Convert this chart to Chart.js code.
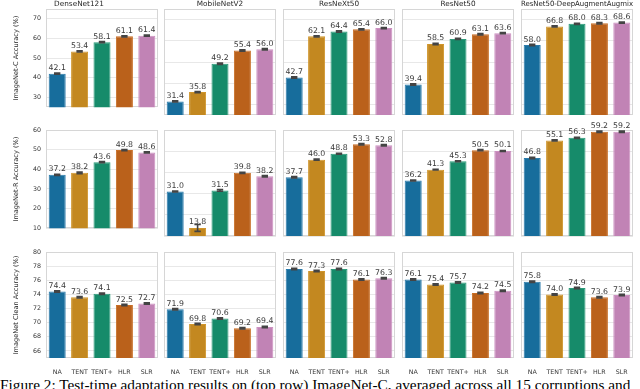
<!DOCTYPE html>
<html><head><meta charset="utf-8">
<script src="https://cdn.jsdelivr.net/npm/chart.js@4.4.0/dist/chart.umd.min.js"></script>
<style>
html,body{margin:0;padding:0;background:#fff;width:640px;height:389px;overflow:hidden;position:relative}
canvas{position:absolute}
#cap{position:absolute;left:0;top:377px;font-family:"Liberation Serif",serif;font-size:15.3px;line-height:15px;white-space:nowrap;color:#000}
</style></head><body>
<div id="cap">Figure 2: Test-time adaptation results on (top row) ImageNet-C, averaged across all 15 corruptions and</div>
<script>
// ---- data ----
const methods = ['NA', 'TENT', 'TENT+', 'HLR', 'SLR'];
const models = ['DenseNet121', 'MobileNetV2', 'ResNeXt50', 'ResNet50', 'ResNet50-DeepAugmentAugmix'];
const metricTitles = ['ImageNet-C Accuracy (%)', 'ImageNet-R Accuracy (%)', 'ImageNet Clean Accuracy (%)'];

const accImageNetC = [
  [42.1, 53.4, 58.1, 61.1, 61.4],
  [31.4, 35.8, 49.2, 55.4, 56.0],
  [42.7, 62.1, 64.4, 65.4, 66.0],
  [39.4, 58.5, 60.9, 63.1, 63.6],
  [58.0, 66.8, 68.0, 68.3, 68.6]
];
const accImageNetR = [
  [37.2, 38.2, 43.6, 49.8, 48.6],
  [31.0, 13.8, 31.5, 39.8, 38.2],
  [37.7, 46.0, 48.8, 53.3, 52.8],
  [36.2, 41.3, 45.3, 50.5, 50.1],
  [46.8, 55.1, 56.3, 59.2, 59.2]
];
const accClean = [
  [74.4, 73.6, 74.1, 72.5, 72.7],
  [71.9, 69.8, 70.6, 69.2, 69.4],
  [77.6, 77.3, 77.6, 76.1, 76.3],
  [76.1, 75.4, 75.7, 74.2, 74.5],
  [75.8, 74.0, 74.9, 73.6, 73.9]
];
const errImageNetC = [
  [0.3, 0.3, 0.3, 0.3, 0.3],
  [0.3, 0.3, 0.3, 0.3, 0.3],
  [0.3, 0.3, 0.3, 0.3, 0.3],
  [0.3, 0.3, 0.3, 0.3, 0.3],
  [0.3, 0.3, 0.3, 0.3, 0.3]
];
const errImageNetR = [
  [0.3, 0.4, 0.3, 0.3, 0.3],
  [0.2, 1.6, 0.4, 0.3, 0.3],
  [0.3, 0.3, 0.2, 0.3, 0.3],
  [0.2, 0.2, 0.2, 0.3, 0.2],
  [0.3, 0.3, 0.3, 0.3, 0.3]
];
const errClean = [
  [0.1, 0.1, 0.1, 0.1, 0.1],
  [0.1, 0.1, 0.1, 0.1, 0.1],
  [0.1, 0.1, 0.1, 0.1, 0.1],
  [0.1, 0.1, 0.1, 0.1, 0.1],
  [0.1, 0.1, 0.1, 0.1, 0.1]
];
const ticksImageNetC = [30, 40, 50, 60, 70];
const ticksImageNetR = [10, 20, 30, 40, 50, 60];
const ticksClean = [66, 68, 70, 72, 74, 76, 78, 80];
const rangeImageNetC = [25, 75];
const rangeImageNetR = [10, 60];
const rangeClean = [65, 80];

// ---- style / layout ----
const fillColors = ['#176d9c', '#c38820', '#168b6a', '#ba611b', '#c183b5'];
const edgeColors = ['#2a7bab', '#d0952a', '#2a9a78', '#c86d24', '#cc90c0'];
const colLeft = [46, 164, 283, 402, 521];
const plotW = 112;
const rowTop = [9, 130, 252];
const plotH = 106;
const FONT = "'DejaVu Sans', sans-serif";

const rows = [
  {acc: accImageNetC, err: errImageNetC, ticks: ticksImageNetC, range: rangeImageNetC},
  {acc: accImageNetR, err: errImageNetR, ticks: ticksImageNetR, range: rangeImageNetR},
  {acc: accClean, err: errClean, ticks: ticksClean, range: rangeClean}
];

const framePlugin = {
  id: 'frame',
  beforeDatasetsDraw(chart) {
    const a = chart.chartArea, ctx = chart.ctx;
    ctx.save();
    ctx.strokeStyle = '#d6d6d6';
    ctx.lineWidth = 1;
    ctx.strokeRect(Math.round(a.left) + 0.5, Math.round(a.top) + 0.5,
                   Math.round(a.right - a.left) - 1, Math.round(a.bottom - a.top) - 1);
    ctx.restore();
  }
};

const annotPlugin = {
  id: 'annot',
  afterDatasetsDraw(chart) {
    const ctx = chart.ctx;
    const ys = chart.scales.y;
    const ds = chart.data.datasets[0];
    const meta = chart.getDatasetMeta(0);
    ctx.save();
    meta.data.forEach((bar, i) => {
      const v = ds.data[i], e = ds.errors[i];
      const y1 = ys.getPixelForValue(v + e), y2 = ys.getPixelForValue(v - e);
      ctx.strokeStyle = '#444';
      ctx.lineWidth = 1.6;
      ctx.beginPath();
      ctx.moveTo(bar.x, y1); ctx.lineTo(bar.x, y2);
      ctx.moveTo(bar.x - 3.2, y1); ctx.lineTo(bar.x + 3.2, y1);
      ctx.moveTo(bar.x - 3.2, y2); ctx.lineTo(bar.x + 3.2, y2);
      ctx.stroke();
    });
    ctx.fillStyle = '#3a3a3a';
    ctx.font = '7.8px ' + FONT;
    ctx.textAlign = 'center';
    ctx.textBaseline = 'alphabetic';
    meta.data.forEach((bar, i) => {
      ctx.fillText(ds.data[i].toFixed(1), bar.x, bar.y - 3.5);
    });
    ctx.restore();
  }
};

rows.forEach((row, r) => {
  models.forEach((model, c) => {
    const axisW = c === 0 ? 46 : 0;
    const padL = c === 0 ? 0 : 1;
    const padR = 2;
    const padTop = r === 0 ? 0 : 15;
    const xAxisH = r === 2 ? 20 : 0;
    const padBottom = r === 2 ? 0 : 1;
    const titleH = r === 0 ? 9 : 0;
    const left = colLeft[c] - axisW - padL;
    const top = rowTop[r] - padTop - titleH;
    const w = axisW + padL + plotW + padR;
    const h = padTop + titleH + plotH + xAxisH + padBottom;
    const cv = document.createElement('canvas');
    cv.width = w; cv.height = h;
    cv.style.left = left + 'px'; cv.style.top = top + 'px';
    cv.style.width = w + 'px'; cv.style.height = h + 'px';
    document.body.appendChild(cv);
    new Chart(cv, {
      type: 'bar',
      data: {
        labels: methods,
        datasets: [{
          data: row.acc[c],
          errors: row.err[c],
          backgroundColor: fillColors,
          borderColor: edgeColors,
          borderWidth: 1,
          barPercentage: 0.76,
          categoryPercentage: 1.0
        }]
      },
      options: {
        responsive: false,
        animation: false,
        devicePixelRatio: 1,
        layout: {padding: {left: padL, right: padR, top: padTop, bottom: padBottom}},
        plugins: {
          legend: {display: false},
          tooltip: {enabled: false},
          title: {
            display: r === 0,
            text: model,
            color: '#262626',
            font: {family: FONT, size: 7.3, weight: 'normal', lineHeight: 1},
            padding: {top: 0, bottom: 1.7}
          }
        },
        scales: {
          x: {
            display: r === 2,
            grid: {display: false},
            border: {display: false},
            ticks: {color: '#333', font: {family: FONT, size: 6.3}, padding: 3, maxRotation: 0, autoSkip: false},
            afterFit: s => { s.height = xAxisH; }
          },
          y: {
            min: row.range[0],
            max: row.range[1],
            grid: {color: '#e8e8e8', lineWidth: 1, drawTicks: false},
            border: {display: false},
            afterBuildTicks: s => { s.ticks = row.ticks.map(v => ({value: v})); },
            ticks: {display: c === 0, color: '#333', font: {family: FONT, size: 6.3}, padding: 5},
            title: {
              display: c === 0,
              text: metricTitles[r],
              color: '#262626',
              font: {family: FONT, size: 6.6, lineHeight: 1.2},
              padding: {top: 12, bottom: 0}
            },
            afterFit: s => { s.width = axisW; }
          }
        }
      },
      plugins: [framePlugin, annotPlugin]
    });
  });
});
</script>
</body></html>
